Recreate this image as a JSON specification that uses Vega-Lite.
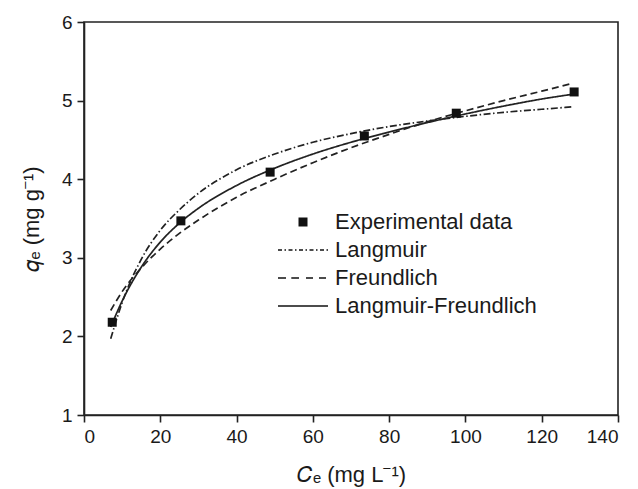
{
  "$schema": "https://vega.github.io/schema/vega-lite/v6.json",
  "width": 534,
  "height": 393,
  "autosize": "none",
  "padding": {"left": 84, "top": 22, "right": 20, "bottom": 74},
  "background": "white",
  "config": {
    "font": "Liberation Sans",
    "view": {"stroke": "#222222", "strokeWidth": 1.6},
    "axis": {
      "domainColor": "#222222",
      "domainWidth": 1.6,
      "tickColor": "#222222",
      "tickWidth": 1.6,
      "tickSize": 7,
      "labelPadding": 5,
      "labelFontSize": 19,
      "labelColor": "#1a1a1a",
      "titleFontSize": 22,
      "titleFontWeight": "normal",
      "titleColor": "#1a1a1a",
      "grid": false
    }
  },
  "datasets": {
    "curves": [
      {"series": "Langmuir", "Ce": 7, "qe": 1.97},
      {"series": "Langmuir", "Ce": 10, "qe": 2.43},
      {"series": "Langmuir", "Ce": 15, "qe": 2.98},
      {"series": "Langmuir", "Ce": 20, "qe": 3.35},
      {"series": "Langmuir", "Ce": 25, "qe": 3.61},
      {"series": "Langmuir", "Ce": 30, "qe": 3.82},
      {"series": "Langmuir", "Ce": 40, "qe": 4.12},
      {"series": "Langmuir", "Ce": 50, "qe": 4.32},
      {"series": "Langmuir", "Ce": 60, "qe": 4.47},
      {"series": "Langmuir", "Ce": 70, "qe": 4.58},
      {"series": "Langmuir", "Ce": 80, "qe": 4.67},
      {"series": "Langmuir", "Ce": 90, "qe": 4.74},
      {"series": "Langmuir", "Ce": 100, "qe": 4.80},
      {"series": "Langmuir", "Ce": 110, "qe": 4.85},
      {"series": "Langmuir", "Ce": 120, "qe": 4.89},
      {"series": "Langmuir", "Ce": 128, "qe": 4.92},
      {"series": "Freundlich", "Ce": 7, "qe": 2.33},
      {"series": "Freundlich", "Ce": 10, "qe": 2.57},
      {"series": "Freundlich", "Ce": 15, "qe": 2.87},
      {"series": "Freundlich", "Ce": 20, "qe": 3.11},
      {"series": "Freundlich", "Ce": 25, "qe": 3.31},
      {"series": "Freundlich", "Ce": 30, "qe": 3.48},
      {"series": "Freundlich", "Ce": 40, "qe": 3.77},
      {"series": "Freundlich", "Ce": 50, "qe": 4.00},
      {"series": "Freundlich", "Ce": 60, "qe": 4.21},
      {"series": "Freundlich", "Ce": 70, "qe": 4.40},
      {"series": "Freundlich", "Ce": 80, "qe": 4.57},
      {"series": "Freundlich", "Ce": 90, "qe": 4.73},
      {"series": "Freundlich", "Ce": 100, "qe": 4.87},
      {"series": "Freundlich", "Ce": 110, "qe": 5.00},
      {"series": "Freundlich", "Ce": 120, "qe": 5.12},
      {"series": "Freundlich", "Ce": 128, "qe": 5.22},
      {"series": "Langmuir-Freundlich", "Ce": 7, "qe": 2.12},
      {"series": "Langmuir-Freundlich", "Ce": 10, "qe": 2.45},
      {"series": "Langmuir-Freundlich", "Ce": 15, "qe": 2.88},
      {"series": "Langmuir-Freundlich", "Ce": 20, "qe": 3.20},
      {"series": "Langmuir-Freundlich", "Ce": 25, "qe": 3.44},
      {"series": "Langmuir-Freundlich", "Ce": 30, "qe": 3.63},
      {"series": "Langmuir-Freundlich", "Ce": 40, "qe": 3.92},
      {"series": "Langmuir-Freundlich", "Ce": 50, "qe": 4.14},
      {"series": "Langmuir-Freundlich", "Ce": 60, "qe": 4.32},
      {"series": "Langmuir-Freundlich", "Ce": 70, "qe": 4.47},
      {"series": "Langmuir-Freundlich", "Ce": 80, "qe": 4.60},
      {"series": "Langmuir-Freundlich", "Ce": 90, "qe": 4.72},
      {"series": "Langmuir-Freundlich", "Ce": 100, "qe": 4.83},
      {"series": "Langmuir-Freundlich", "Ce": 110, "qe": 4.93},
      {"series": "Langmuir-Freundlich", "Ce": 120, "qe": 5.02},
      {"series": "Langmuir-Freundlich", "Ce": 128, "qe": 5.08}
    ],
    "points": [
      {"series": "Experimental data", "Ce": 7.4, "qe": 2.18},
      {"series": "Experimental data", "Ce": 25.4, "qe": 3.47},
      {"series": "Experimental data", "Ce": 48.8, "qe": 4.09},
      {"series": "Experimental data", "Ce": 73.5, "qe": 4.55},
      {"series": "Experimental data", "Ce": 97.6, "qe": 4.84},
      {"series": "Experimental data", "Ce": 128.5, "qe": 5.11}
    ]
  },
  "encoding": {
    "x": {
      "field": "Ce",
      "type": "quantitative",
      "scale": {"domain": [0, 140], "nice": false, "zero": false},
      "axis": {"values": [0, 20, 40, 60, 80, 100, 120, 140], "title": "𝐶ₑ (mg L⁻¹)", "titlePadding": 18}
    },
    "y": {
      "field": "qe",
      "type": "quantitative",
      "scale": {"domain": [1, 6], "nice": false, "zero": false},
      "axis": {"values": [1, 2, 3, 4, 5, 6], "title": "𝑞ₑ (mg g⁻¹)", "titlePadding": 18}
    }
  },
  "layer": [
    {
      "data": {"name": "curves"},
      "mark": {"type": "line", "color": "#222222", "strokeWidth": 1.7, "interpolate": "monotone"},
      "encoding": {
        "detail": {"field": "series", "type": "nominal"},
        "strokeDash": {
          "field": "series",
          "type": "nominal",
          "scale": {
            "domain": ["Langmuir", "Freundlich", "Langmuir-Freundlich"],
            "range": [[7, 2.5, 1.5, 2.5], [7, 4], [1, 0]]
          },
          "legend": null
        }
      }
    },
    {
      "data": {"name": "points"},
      "mark": {"type": "point", "filled": true, "color": "#111111", "size": 100, "opacity": 1, "strokeWidth": 0},
      "encoding": {
        "shape": {
          "field": "series",
          "type": "nominal",
          "scale": {
            "domain": ["Experimental data", "Langmuir", "Freundlich", "Langmuir-Freundlich"],
            "range": [
              "M-0.9,-0.9L0.9,-0.9L0.9,0.9L-0.9,0.9Z",
              "M-5,-0.16L-4.2,-0.16L-4.2,0.16L-5,0.16ZM-3.7,-0.16L-3.4,-0.16L-3.4,0.16L-3.7,0.16ZM-2.9,-0.16L-2.1,-0.16L-2.1,0.16L-2.9,0.16ZM-1.6,-0.16L-1.3,-0.16L-1.3,0.16L-1.6,0.16ZM-0.8,-0.16L0,-0.16L0,0.16L-0.8,0.16ZM0.5,-0.16L0.8,-0.16L0.8,0.16L0.5,0.16ZM1.3,-0.16L2.1,-0.16L2.1,0.16L1.3,0.16ZM2.6,-0.16L2.9,-0.16L2.9,0.16L2.6,0.16ZM3.4,-0.16L4.2,-0.16L4.2,0.16L3.4,0.16ZM4.7,-0.16L5,-0.16L5,0.16L4.7,0.16Z",
              "M-5,-0.16L-3.4,-0.16L-3.4,0.16L-5,0.16ZM-2.34,-0.16L-0.8,-0.16L-0.8,0.16L-2.34,0.16ZM0.6,-0.16L2,-0.16L2,0.16L0.6,0.16ZM3.2,-0.16L4.6,-0.16L4.6,0.16L3.2,0.16Z",
              "M-5,-0.16L5,-0.16L5,0.16L-5,0.16Z"
            ]
          },
          "legend": {
            "title": null,
            "orient": "none",
            "legendX": 208,
            "legendY": 189,
            "labelFontSize": 22,
            "labelColor": "#1a1a1a",
            "labelLimit": 400,
            "labelOffset": 21,
            "rowPadding": 6,
            "symbolSize": 100,
            "symbolFillColor": "#111111",
            "symbolStrokeWidth": 0,
            "symbolOpacity": 1
          }
        }
      }
    }
  ]
}
